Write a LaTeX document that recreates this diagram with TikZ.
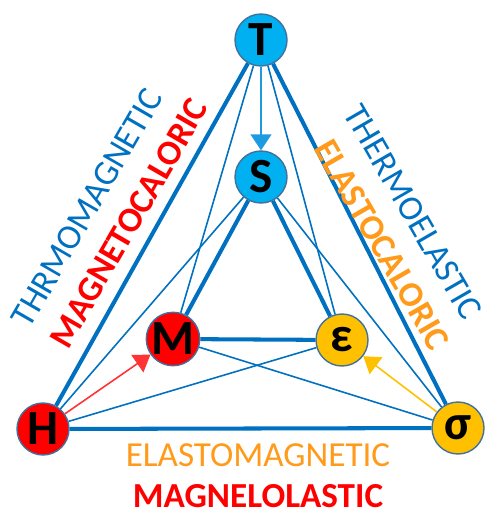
\documentclass[tikz,border=0pt]{standalone}
\usepackage{fontspec}
\setmainfont{Carlito}
\usepackage{tikz}
\usetikzlibrary{arrows.meta, positioning}
\definecolor{LineBlue}{HTML}{0070C0}
\definecolor{SkyBlue}{HTML}{00B0F0}
\definecolor{ArrowBlue}{HTML}{1E9BE0}
\definecolor{MagRed}{HTML}{FF0000}
\definecolor{ElaGold}{HTML}{FFC000}
\definecolor{ElaOrange}{HTML}{FF9A1A}
\definecolor{EdgeGray}{HTML}{41719C}

\begin{document}
\begin{tikzpicture}[
  var/.style={circle, draw=EdgeGray, line width=0.8pt, minimum size=1.04cm, inner sep=0pt,
    font=\fontsize{28}{28}\selectfont\bfseries},
  strong/.style={LineBlue, line width=2.3pt},
  weak/.style={LineBlue, line width=0.9pt},
  drive/.style={line width=0.9pt, -{Triangle[length=0.32cm,width=0.42cm]}},
  lbl/.style={font=\fontsize{20}{24}\selectfont}
]
\useasboundingbox (0,0) rectangle (9.7,-10.26);

\node[var, fill=SkyBlue] (T)   at (5.22,-0.80) {T};
\node[var, fill=SkyBlue] (S)   at (5.22,-3.54) {S};
\node[var, fill=MagRed]  (M)   at (3.46,-6.78) {M};
\node[var, fill=ElaGold] (eps) at (6.84,-6.80) {ε};
\node[var, fill=MagRed]  (H)   at (0.86,-8.58) {H};
\node[var, fill=ElaGold] (sig) at (9.16,-8.56) {σ};

% outer and inner triangles
\draw[strong] (T) -- (H);
\draw[strong] (T) -- (sig);
\draw[strong] (H) -- (sig);
\draw[strong] (S) -- (M);
\draw[strong] (S) -- (eps);
\draw[strong] (M) -- (eps);

% cross links
\draw[weak] (T) -- (M);
\draw[weak] (T) -- (eps);
\draw[weak] (S) -- (H);
\draw[weak] (S) -- (sig);
\draw[weak] (H) -- (eps);
\draw[weak] (M) -- (sig);

% driving fields
\draw[drive, ArrowBlue, fill=SkyBlue] (T) -- (S);
\draw[drive, MagRed!80, fill=MagRed] (H) -- (M);
\draw[drive, ElaGold, fill=ElaGold] (sig) -- (eps);

% effect names
\node[lbl, text=LineBlue, rotate=60]  (thm) at (1.74,-4.16) {THRMOMAGNETIC};
\node[lbl, text=MagRed, rotate=60, font=\fontsize{20}{24}\selectfont\bfseries] (mc) at (2.58,-4.46) {MAGNETOCALORIC};
\node[lbl, text=LineBlue, rotate=-60] (the) at (8.26,-4.24) {THERMOELASTIC};
\node[lbl, text=ElaOrange, rotate=-60, font=\fontsize{20}{24}\selectfont\bfseries] (ec) at (7.64,-4.90) {ELASTOCALORIC};
\node[lbl, text=ElaOrange] (em) at (5.16,-9.10) {ELASTOMAGNETIC};
\node[lbl, text=MagRed, font=\fontsize{20}{24}\selectfont\bfseries] (mel) at (5.16,-9.92) {MAGNELOLASTIC};

\end{tikzpicture}
\end{document}
